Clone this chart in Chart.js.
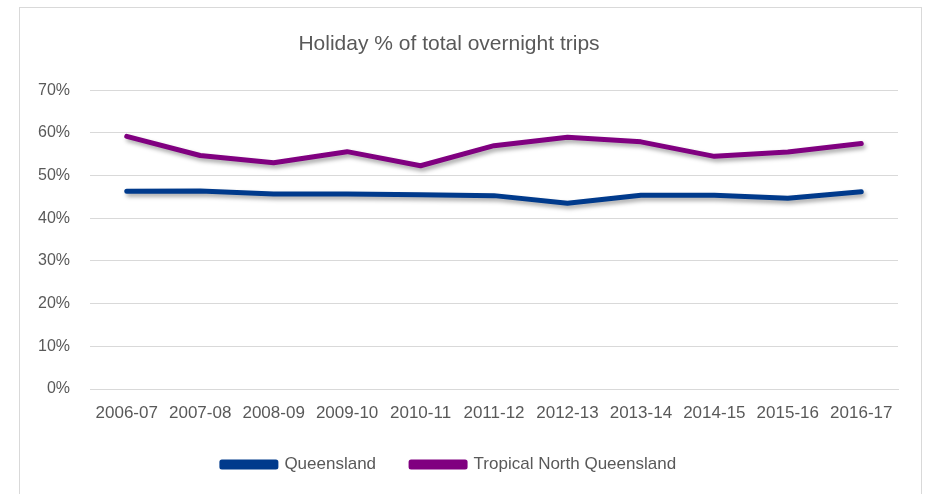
<!DOCTYPE html>
<html>
<head>
<meta charset="utf-8">
<script src="https://cdn.jsdelivr.net/npm/chart.js@4/dist/chart.umd.min.js"></script>
<style>
  html, body { margin: 0; padding: 0; background: #fff; }
  #wrap { position: relative; width: 926px; height: 494px; overflow: hidden; }
  #frame { position: absolute; left: 19px; top: 7px; width: 903px; height: 500px; border: 1px solid #d9d9d9; box-sizing: border-box; }
  #holder { position: absolute; left: 0; top: 0; width: 926px; height: 494px; }
</style>
</head>
<body>
<div id="wrap">
  <div id="frame"></div>
  <div id="holder"><canvas id="holidayChart"></canvas></div>
</div>
<script>
const years = ['2006-07', '2007-08', '2008-09', '2009-10', '2010-11', '2011-12',
  '2012-13', '2013-14', '2014-15', '2015-16', '2016-17'];
const queensland = [46.3, 46.4, 45.7, 45.7, 45.5, 45.3, 43.5, 45.4, 45.4, 44.7, 46.2];
const tropicalNorth = [59.2, 54.7, 53.0, 55.6, 52.3, 57.0, 59.0, 57.9, 54.5, 55.5, 57.5];
const yTicks = [0, 10, 20, 30, 40, 50, 60, 70];

const fontName = "'Liberation Sans Narrow', 'Arial Narrow', 'Liberation Sans', sans-serif";
const grey = '#595959';

//sombra para las lineas
const lineShadow = {
  id: 'lineShadow',
  beforeDatasetsDraw(chart) {
    const ctx = chart.ctx;
    ctx.save();
    ctx.shadowColor = 'rgba(0,0,0,0.35)';
    ctx.shadowBlur = 4;
    ctx.shadowOffsetX = 2;
    ctx.shadowOffsetY = 3;
  },
  afterDatasetsDraw(chart) {
    chart.ctx.restore();
  }
};

document.addEventListener("DOMContentLoaded", () => {
  new Chart(document.getElementById("holidayChart"), {
    type: 'line',
    data: {
      labels: years,
      datasets: [{
        label: 'Queensland',
        data: queensland,
        borderColor: '#003A8C',
        backgroundColor: '#003A8C',
        borderWidth: 5,
        borderCapStyle: 'round',
        borderJoinStyle: 'round',
        pointRadius: 0,
        tension: 0
      }, {
        label: 'Tropical North Queensland',
        data: tropicalNorth,
        borderColor: '#800080',
        backgroundColor: '#800080',
        borderWidth: 5,
        borderCapStyle: 'round',
        borderJoinStyle: 'round',
        pointRadius: 0,
        tension: 0
      }]
    },
    plugins: [lineShadow],
    options: {
      responsive: true,
      maintainAspectRatio: false,
      animation: false,
      layout: { padding: { left: 0, right: 28, top: 0, bottom: 11 } },
      plugins: {
        title: {
          display: true,
          text: 'Holiday % of total overnight trips',
          color: grey,
          font: { family: fontName, size: 21, weight: 'normal' },
          padding: { top: 32, bottom: 33 }
        },
        legend: {
          position: 'bottom',
          labels: {
            color: grey,
            font: { family: fontName, size: 17 },
            boxWidth: 54,
            boxHeight: 5,
            padding: 35
          }
        },
        tooltip: { enabled: false }
      },
      scales: {
        x: {
          offset: true,
          afterFit: scale => { scale.height = 32; },
          grid: { display: false, drawTicks: false },
          border: { display: true, color: '#d9d9d9', width: 1 },
          ticks: {
            color: grey,
            font: { family: fontName, size: 17 },
            padding: 14,
            maxRotation: 0,
            autoSkip: false
          }
        },
        y: {
          min: 0,
          max: 70,
          afterFit: scale => { scale.width = 90; },
          afterBuildTicks: scale => { scale.ticks = yTicks.map(v => ({ value: v })); },
          grid: { color: '#d9d9d9', lineWidth: 1, drawTicks: false },
          border: { display: false },
          ticks: {
            color: grey,
            font: { family: fontName, size: 16 },
            padding: 20,
            callback: v => v + '%'
          }
        }
      }
    }
  });
});
</script>
</body>
</html>
